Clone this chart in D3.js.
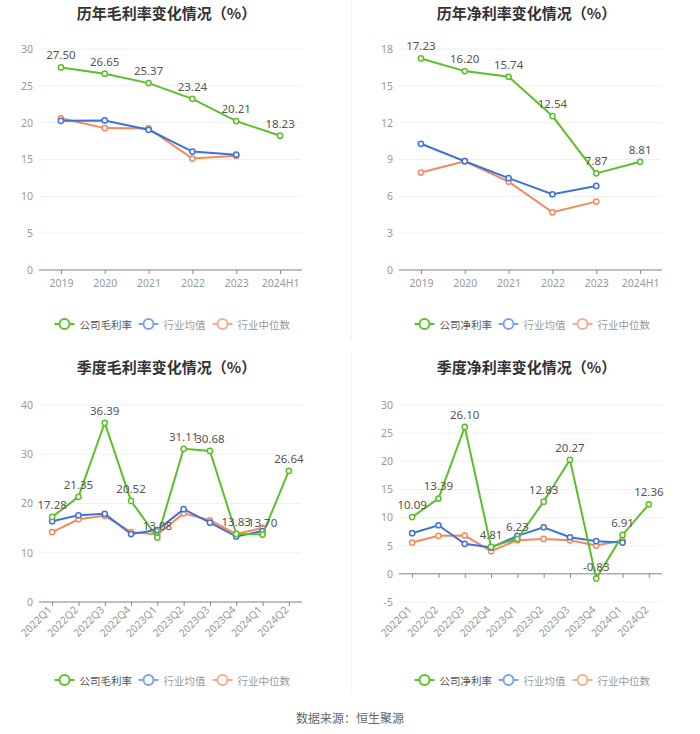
<!DOCTYPE html>
<html><head><meta charset="utf-8">
<script src="https://cdn.jsdelivr.net/npm/d3@7/dist/d3.min.js"></script>
<style>
html,body{margin:0;padding:0;background:#fff;}
svg{display:block;font-family:"Noto Sans CJK SC","Noto Sans",sans-serif;}
</style></head>
<body>
<svg id="c" width="700" height="734"></svg>
<script>
// ---- data ----
const years = ["2019","2020","2021","2022","2023","2024H1"];
const quarters = ["2022Q1","2022Q2","2022Q3","2022Q4","2023Q1","2023Q2","2023Q3","2023Q4","2024Q1","2024Q2"];

const grossCompanyY = [27.50, 26.65, 25.37, 23.24, 20.21, 18.23];
const grossAvgY     = [20.25, 20.30, 19.03, 16.08, 15.65];
const grossMedY     = [20.60, 19.26, 19.22, 15.13, 15.50];

const netCompanyY = [17.23, 16.20, 15.74, 12.54, 7.87, 8.81];
const netAvgY     = [10.28, 8.86, 7.48, 6.17, 6.85];
const netMedY     = [7.94, 8.86, 7.20, 4.70, 5.57];

const grossCompanyQ = [17.28, 21.35, 36.39, 20.52, 13.08, 31.11, 30.68, 13.83, 13.70, 26.64];
const grossAvgQ     = [16.4, 17.6, 17.9, 13.8, 14.6, 18.85, 16.1, 13.3, 14.4];
const grossMedQ     = [14.2, 16.8, 17.5, 14.2, 13.7, 18.0, 16.6, 13.8, 15.05];

const netCompanyQ = [10.09, 13.39, 26.10, 4.81, 6.23, 12.83, 20.27, -0.83, 6.91, 12.36];
const netAvgQ     = [7.22, 8.64, 5.33, 4.67, 6.75, 8.28, 6.50, 5.80, 5.56];
const netMedQ     = [5.56, 6.75, 6.80, 4.02, 5.98, 6.21, 5.98, 5.03, 5.92];

const yTicks1 = [0,5,10,15,20,25,30];
const yTicks2 = [0,3,6,9,12,15,18];
const yTicks3 = [0,10,20,30,40];
const yTicks4 = [-5,0,5,10,15,20,25,30];

const titles = ["历年毛利率变化情况（%）","历年净利率变化情况（%）","季度毛利率变化情况（%）","季度净利率变化情况（%）"];
const legendGross = ["公司毛利率","行业均值","行业中位数"];
const legendNet = ["公司净利率","行业均值","行业中位数"];
const sourceText = "数据来源：恒生聚源";

// ---- styles ----
const GREEN = "#5cbf2a", BLUE = "#3f72d9", ORANGE = "#f08a5d";
const LEG = ["#5cbf2a", "#7ea1ea", "#f4ad90"];

const svg = d3.select("#c");

// separators
svg.append("line").attr("x1",351).attr("x2",351).attr("y1",0).attr("y2",340).attr("stroke","#f0f0f0");
svg.append("line").attr("x1",351).attr("x2",351).attr("y1",352).attr("y2",695).attr("stroke","#f0f0f0");

function panel(o){
  const g = svg.append("g");
  const x = d3.scalePoint().domain(o.cats).range([o.left, o.right]).padding(0.5);
  const y = d3.scaleLinear().domain([o.ticks[0], o.ticks[o.ticks.length-1]]).range([o.bottom, o.top]);
  const cx = (o.left+o.right)/2;

  g.append("text").attr("x", cx-4).attr("y", o.titleY).attr("text-anchor","middle")
    .attr("dominant-baseline","central").attr("font-size",15).attr("font-weight","bold")
    .attr("fill","#333").text(o.title);

  // grid
  g.selectAll(".gl").data(o.ticks).enter().append("line")
    .attr("x1",o.left).attr("x2",o.right).attr("y1",d=>y(d)).attr("y2",d=>y(d))
    .attr("stroke","#eef0f4").attr("stroke-width",1);

  // y axis labels
  const ya = d3.axisLeft(y).tickValues(o.ticks).tickSize(0).tickPadding(6).tickFormat(d=>String(d));
  const yg = g.append("g").attr("transform",`translate(${o.left},0)`).call(ya);
  yg.select(".domain").remove();
  yg.selectAll("text").attr("font-size",10.5).attr("fill","#999").attr("font-family","'Noto Sans',sans-serif");

  // x axis at zero
  const zy = y(0);
  const xa = d3.axisBottom(x).tickSize(4).tickSizeOuter(0).tickPadding(6);
  const xg = g.append("g").attr("transform",`translate(0,${zy})`).call(xa);
  xg.select(".domain").attr("stroke","#888").attr("d",`M${o.left},0H${o.right}`);
  xg.selectAll(".tick line").attr("stroke","#888");
  xg.selectAll("text").attr("font-size",10.5).attr("fill","#999").attr("font-family","'Noto Sans',sans-serif");
  if (o.rotate){
    const off = o.bottom - zy;
    xg.selectAll(".tick text")
      .attr("text-anchor","end").attr("dy","0.35em")
      .attr("transform",`translate(0,${off+3}) rotate(-45)`)
      .attr("y",0).attr("x",-4);
  }

  const line = d3.line().x((d,i)=>x(o.cats[i])).y(d=>y(d));
  const series = [
    {v:o.med, c:ORANGE},
    {v:o.avg, c:BLUE},
    {v:o.comp, c:GREEN}
  ];
  series.forEach(s=>{
    g.append("path").datum(s.v).attr("d",line).attr("fill","none").attr("stroke",s.c).attr("stroke-width",2);
    g.selectAll(null).data(s.v).enter().append("circle")
      .attr("cx",(d,i)=>x(o.cats[i])).attr("cy",d=>y(d)).attr("r",2.6)
      .attr("fill","#fff").attr("stroke",s.c).attr("stroke-width",1.5);
  });
  g.selectAll(null).data(o.comp).enter().append("text")
    .attr("x",(d,i)=>x(o.cats[i])).attr("y",d=>y(d)-8)
    .attr("text-anchor","middle").attr("font-size",11.5).attr("fill","#555")
    .attr("font-family","'Noto Sans',sans-serif")
    .text(d=>d.toFixed(2));

  // legend
  const items = o.legend;
  const startX = cx - 116;
  const offs = [0, 84, 158];
  items.forEach((t,i)=>{
    const lx = startX + offs[i];
    const lg = g.append("g").attr("transform",`translate(${lx},${o.legendY})`);
    lg.append("line").attr("x1",0).attr("x2",20).attr("y1",0).attr("y2",0).attr("stroke",LEG[i]).attr("stroke-width",2);
    lg.append("circle").attr("cx",10).attr("cy",0).attr("r",5).attr("fill","#fff").attr("stroke",LEG[i]).attr("stroke-width",2);
    lg.append("text").attr("x",25).attr("y",0).attr("dominant-baseline","central")
      .attr("font-size",10.5).attr("fill", i===0?"#555":"#999").text(t);
  });
}

panel({cats:years, comp:grossCompanyY, avg:grossAvgY, med:grossMedY, ticks:yTicks1,
  left:39, right:302, top:49, bottom:270, title:titles[0], titleY:12, legend:legendGross, legendY:324});
panel({cats:years, comp:netCompanyY, avg:netAvgY, med:netMedY, ticks:yTicks2,
  left:399, right:662, top:49, bottom:270, title:titles[1], titleY:12, legend:legendNet, legendY:324});
panel({cats:quarters, comp:grossCompanyQ, avg:grossAvgQ, med:grossMedQ, ticks:yTicks3,
  left:39, right:302, top:405, bottom:602, title:titles[2], titleY:366, legend:legendGross, legendY:680, rotate:true});
panel({cats:quarters, comp:netCompanyQ, avg:netAvgQ, med:netMedQ, ticks:yTicks4,
  left:399, right:662, top:405, bottom:602, title:titles[3], titleY:366, legend:legendNet, legendY:680, rotate:true});

svg.append("text").attr("x",350).attr("y",717).attr("text-anchor","middle").attr("dominant-baseline","central")
  .attr("font-size",12).attr("fill","#666").text(sourceText);
</script>
</body></html>
